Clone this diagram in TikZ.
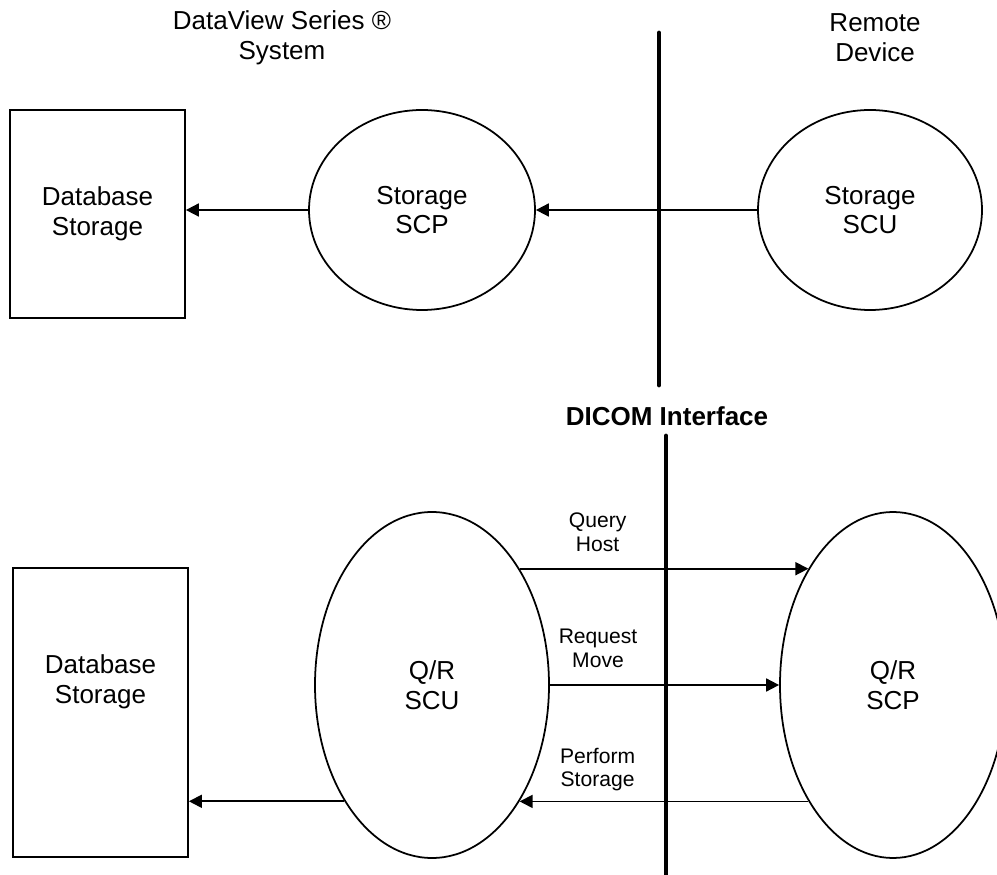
\documentclass[tikz,border=0pt]{standalone}
\usepackage{fontspec}
\setmainfont{Liberation Sans}
\usetikzlibrary{shapes.geometric,arrows.meta}

\begin{document}
\begin{tikzpicture}[
	>={Triangle[length=0.26cm, width=0.26cm]},
	every node/.style = {font=\fontsize{14.8pt}{17pt}\selectfont, align=center},
	dbbox/.style = {rectangle, draw, line width=1pt, minimum width=3.5cm},
	procell/.style = {ellipse, draw, line width=1pt, inner sep=0pt},
	msgarrow/.style = {->, line width=1pt},
	msglabel/.style = {font=\fontsize{12pt}{13.5pt}\selectfont},
	divider/.style = {line width=2.8pt, line cap=round}
]

\useasboundingbox (0,0) rectangle (19.94,-17.5);

%% Titles

\node (sysname) at (5.64,-0.76) {DataView Series ®\\System};
\node (remname) at (17.5,-0.76) {Remote\\Device};

%% DICOM Interface

\draw[divider] (13.18,-0.66) -- (13.18,-7.7);

\node[font=\fontsize{14.8pt}{17pt}\selectfont\bfseries] (dicom) at (13.34,-8.32) {DICOM Interface};

\draw[divider] (13.32,-8.72) -- (13.32,-17.8);

%% Storage

\node[dbbox, minimum height=4.16cm] (dbtop) at (1.95,-4.28) {Database\\Storage};

\node[procell, minimum width=4.52cm, minimum height=4cm] (scp) at (8.44,-4.2) {Storage\\SCP};

\node[procell, minimum width=4.48cm, minimum height=4cm] (scu) at (17.4,-4.2) {Storage\\SCU};

\draw[msgarrow] (scu.west) -- (scp.east);
\draw[msgarrow] (scp.west) -- (scp.west -| dbtop.east);

%% Query / Retrieve

\node[dbbox, minimum height=5.78cm] (dbbot) at (2.01,-14.25) {};
\node (dbbottxt) at (2.01,-13.63) {Database\\Storage};

\node[procell, minimum width=4.68cm, minimum height=6.92cm] (qrscu) at (8.64,-13.7) {Q/R\\SCU};

\node[procell, minimum width=4.52cm, minimum height=6.92cm] (qrscp) at (17.86,-13.7) {Q/R\\SCP};

\draw[msgarrow] (qrscu.53) -- (qrscp.126 |- qrscu.53) node[msglabel, above=6pt, pos=0.27] {Query\\Host};

\draw[msgarrow] (qrscu.east) -- (qrscp.west) node[msglabel, above=6pt, pos=0.21] {Request\\Move};

\draw[msgarrow] (qrscp.-126) -- (qrscu.-53 |- qrscp.-126) node[msglabel, above=2pt, pos=0.73] {Perform\\Storage};

\draw[msgarrow] (qrscu.-127) -- (qrscu.-127 -| dbbot.east);

\end{tikzpicture}
\end{document}
